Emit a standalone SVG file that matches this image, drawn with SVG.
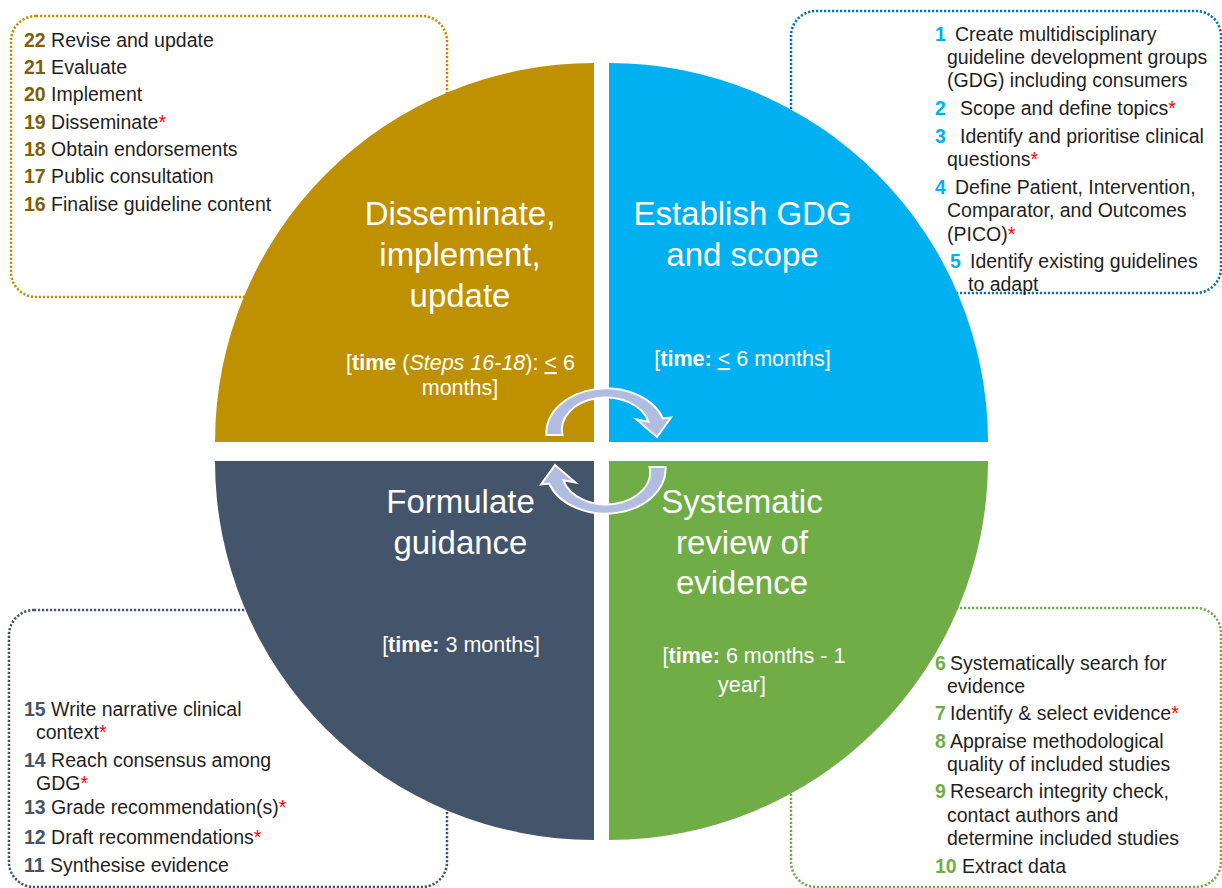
<svg xmlns="http://www.w3.org/2000/svg" width="1222" height="888" viewBox="0 0 1222 888">
<defs>
<style>
text{font-family:"Liberation Sans",Arial,sans-serif}
.box{fill:none;stroke-width:2.5;stroke-dasharray:2.2 1.8}
.li{font-size:19.5px;fill:#1F1F1F}
.n{font-weight:bold}
.ng{fill:#7F6000}
.nb{fill:#00B0F0}
.nd{fill:#44546A}
.nn{fill:#70AD47}
.ast{fill:#FF0000}
.ttl{font-size:33px;fill:#FFFFFF;text-anchor:middle}
.tm{font-size:21.5px;fill:#FFFFFF;text-anchor:middle}
.arrow{fill:#B1BDE0;stroke:#FFFFFF;stroke-width:2;stroke-linejoin:miter}
</style>
</defs>
<rect width="1222" height="888" fill="#FFFFFF"/>

<g id="boxes">
<rect class="box" x="11" y="16" width="436" height="281" rx="25" stroke="#BF9000"/>
<rect class="box" x="791" y="11" width="430" height="282" rx="25" stroke="#0070C0"/>
<rect class="box" x="9" y="610" width="438" height="277" rx="25" stroke="#44546A"/>
<rect class="box" x="791" y="608" width="430" height="279" rx="25" stroke="#70AD47"/>
</g>

<g id="q-disseminate">
<path d="M594,442 L215,442 A379,379 0 0 1 594,63 Z" fill="#BF9000"/>
<text class="ttl" x="460" y="225">Disseminate,</text>
<text class="ttl" x="460" y="266">implement,</text>
<text class="ttl" x="460" y="307">update</text>
<text class="tm" x="460.5" y="370">[<tspan font-weight="bold">time</tspan> (<tspan font-style="italic">Steps 16-18</tspan>): <tspan text-decoration="underline">&lt;</tspan> 6</text>
<text class="tm" x="460" y="395">months]</text>
</g>

<g id="q-establish">
<path d="M609,442 L609,63 A379,379 0 0 1 988,442 Z" fill="#00B0F0"/>
<text class="ttl" x="742.5" y="225">Establish GDG</text>
<text class="ttl" x="742.5" y="266">and scope</text>
<text class="tm" x="742.5" y="366">[<tspan font-weight="bold">time:</tspan> <tspan text-decoration="underline">&lt;</tspan> 6 months]</text>
</g>

<g id="q-formulate">
<path d="M594,461 L594,840 A379,379 0 0 1 215,461 Z" fill="#44546A"/>
<text class="ttl" x="460.5" y="513">Formulate</text>
<text class="ttl" x="460.5" y="554">guidance</text>
<text class="tm" x="461" y="652">[<tspan font-weight="bold">time:</tspan> 3 months]</text>
</g>

<g id="q-systematic">
<path d="M609,461 L988,461 A379,379 0 0 1 609,840 Z" fill="#70AD47"/>
<text class="ttl" x="742" y="513">Systematic</text>
<text class="ttl" x="742" y="554">review of</text>
<text class="ttl" x="742" y="594">evidence</text>
<text class="tm" x="754" y="663">[<tspan font-weight="bold">time:</tspan> 6 months - 1</text>
<text class="tm" x="742" y="692">year]</text>
</g>

<g id="connectors">
<path id="arrow-top" class="arrow" d="M546.4,435 A60,45 0 0 1 663,418.5 L671,417.5 L657,437 L636.5,419.5 L648.5,421.7 A44,32 0 0 0 562.5,435 Z"/>
<use href="#arrow-top" transform="rotate(180 606 451)"/>
</g>

<g id="list-dissemination" class="li">
<text x="24" y="47"><tspan class="n ng">22</tspan> Revise and update</text>
<text x="24" y="74"><tspan class="n ng">21</tspan> Evaluate</text>
<text x="24" y="101"><tspan class="n ng">20</tspan> Implement</text>
<text x="24" y="129"><tspan class="n ng">19</tspan> Disseminate<tspan class="ast">*</tspan></text>
<text x="24" y="156"><tspan class="n ng">18</tspan> Obtain endorsements</text>
<text x="24" y="183"><tspan class="n ng">17</tspan> Public consultation</text>
<text x="24" y="211"><tspan class="n ng">16</tspan> Finalise guideline content</text>
</g>

<g id="list-establish" class="li">
<text x="935" y="41"><tspan class="n nb">1</tspan><tspan x="955">Create multidisciplinary</tspan></text>
<text x="947" y="64">guideline development groups</text>
<text x="947" y="87">(GDG) including consumers</text>
<text x="935" y="115"><tspan class="n nb">2</tspan><tspan x="960">Scope and define topics</tspan><tspan class="ast">*</tspan></text>
<text x="935" y="142.5"><tspan class="n nb">3</tspan><tspan x="960">Identify and prioritise clinical</tspan></text>
<text x="947" y="165.5">questions<tspan class="ast">*</tspan></text>
<text x="935" y="194"><tspan class="n nb">4</tspan><tspan x="955">Define Patient, Intervention,</tspan></text>
<text x="947" y="217">Comparator, and Outcomes</text>
<text x="947" y="240.5">(PICO)<tspan class="ast">*</tspan></text>
<text x="950" y="268"><tspan class="n nb">5</tspan><tspan x="970">Identify existing guidelines</tspan></text>
<text x="968" y="290.5">to adapt</text>
</g>

<g id="list-formulate" class="li">
<text x="24" y="716"><tspan class="n nd">15</tspan> Write narrative clinical</text>
<text x="36" y="739">context<tspan class="ast">*</tspan></text>
<text x="24" y="767"><tspan class="n nd">14</tspan> Reach consensus among</text>
<text x="36" y="790">GDG<tspan class="ast">*</tspan></text>
<text x="24" y="814"><tspan class="n nd">13</tspan> Grade recommendation(s)<tspan class="ast">*</tspan></text>
<text x="24" y="844"><tspan class="n nd">12</tspan> Draft recommendations<tspan class="ast">*</tspan></text>
<text x="24" y="872"><tspan class="n nd">11</tspan> Synthesise evidence</text>
</g>

<g id="list-systematic" class="li">
<text x="935" y="670"><tspan class="n nn">6</tspan><tspan x="950">Systematically search for</tspan></text>
<text x="947" y="693">evidence</text>
<text x="935" y="720"><tspan class="n nn">7</tspan><tspan x="950">Identify &amp; select evidence</tspan><tspan class="ast">*</tspan></text>
<text x="935" y="748"><tspan class="n nn">8</tspan><tspan x="950">Appraise methodological</tspan></text>
<text x="947" y="771">quality of included studies</text>
<text x="935" y="798"><tspan class="n nn">9</tspan><tspan x="950">Research integrity check,</tspan></text>
<text x="947" y="822">contact authors and</text>
<text x="947" y="845">determine included studies</text>
<text x="935" y="873"><tspan class="n nn">10</tspan><tspan x="962">Extract data</tspan></text>
</g>
</svg>
